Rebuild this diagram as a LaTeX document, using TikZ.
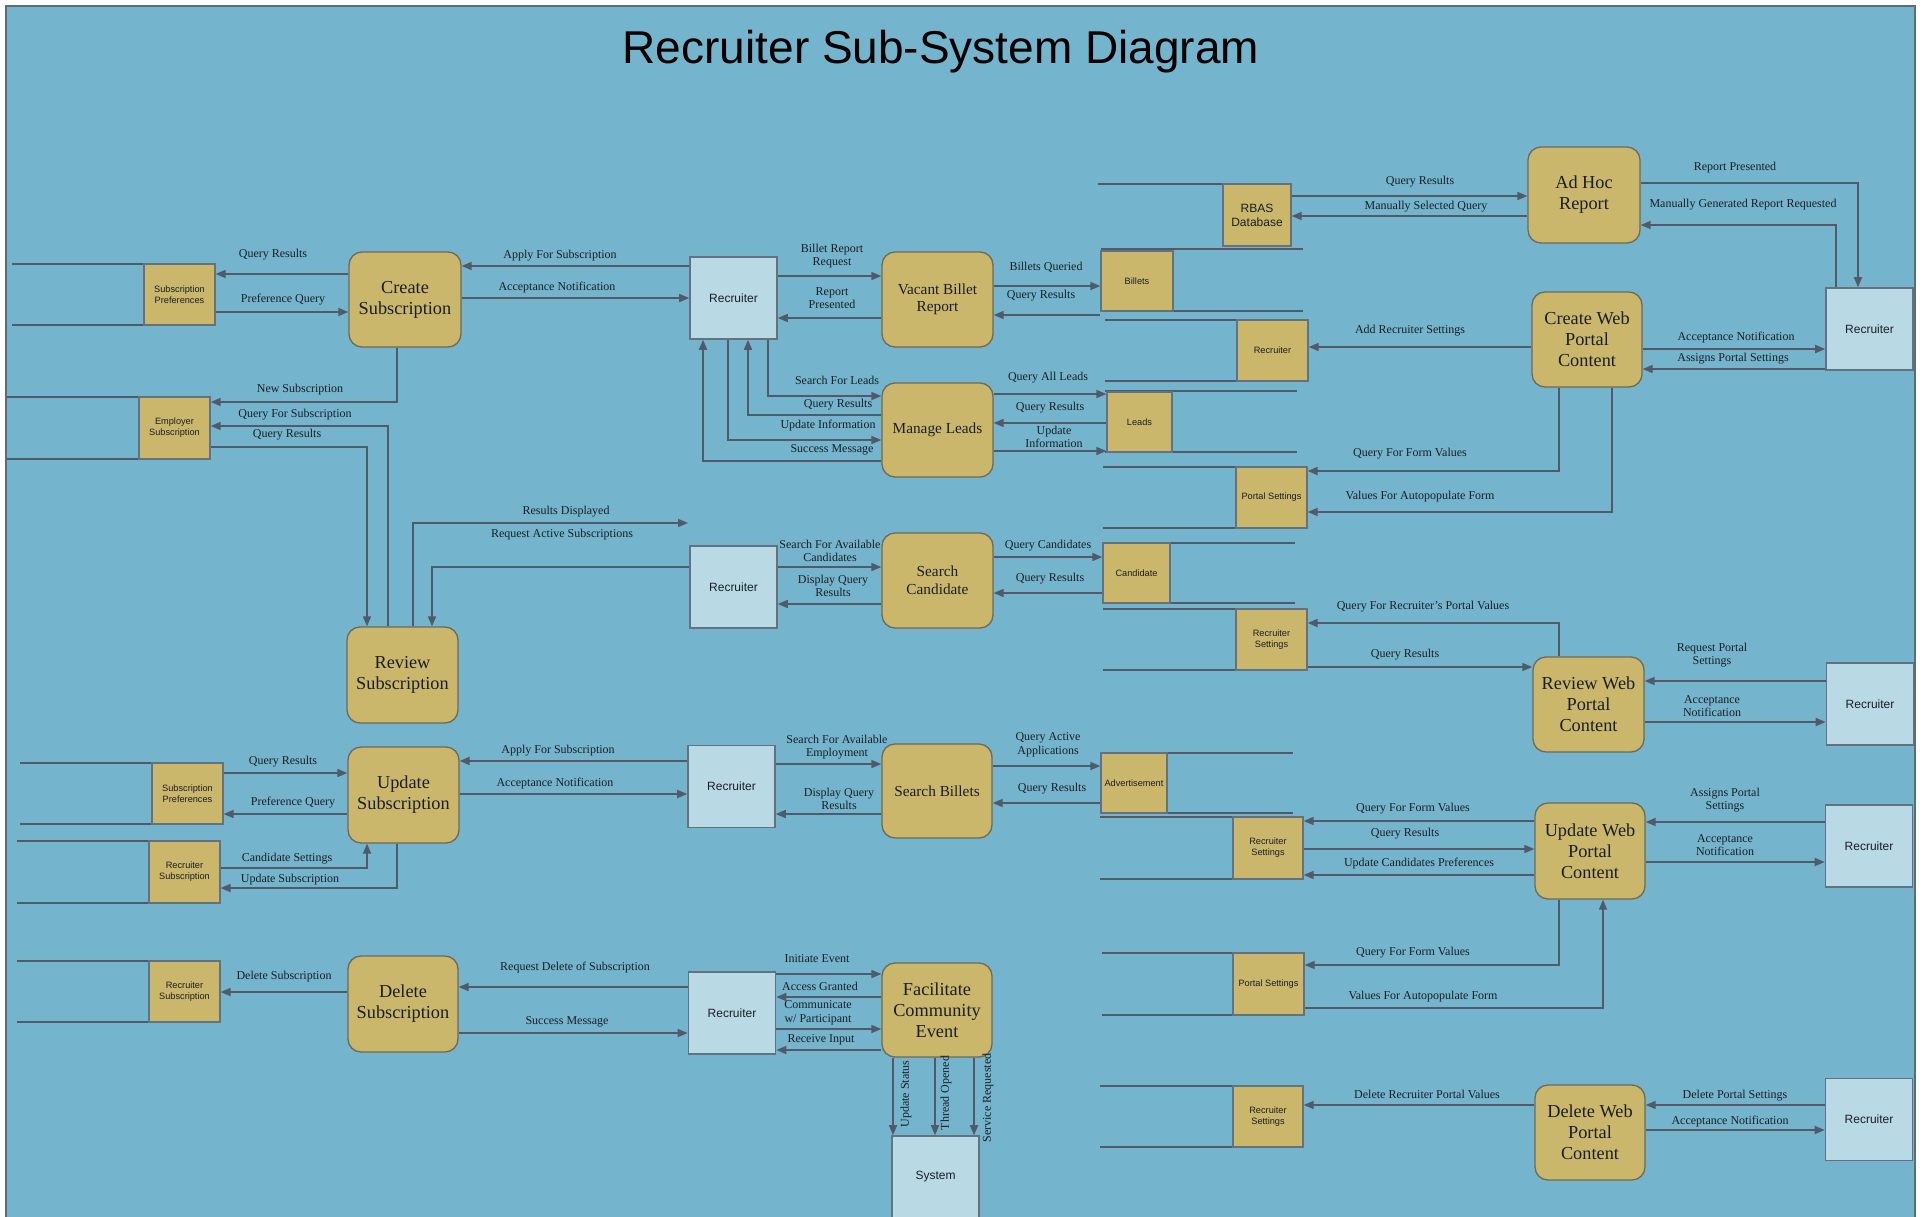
\documentclass[tikz,border=0pt]{standalone}
\usepackage{fontspec}
\setmainfont{Liberation Serif}
\setsansfont{Liberation Sans}
\usetikzlibrary{arrows.meta,calc}
\definecolor{bgc}{HTML}{74B4CC}
\definecolor{gold}{HTML}{CBB76C}
\definecolor{entc}{HTML}{B9D9E4}
\definecolor{lnc}{HTML}{505A69}
\definecolor{txt}{HTML}{1A1F26}
\definecolor{procline}{HTML}{6E6A55}
\definecolor{entline}{HTML}{647280}
\definecolor{framec}{HTML}{5F6B75}
\begin{document}
\begin{tikzpicture}[x=1pt,y=-1pt,
  proc/.style={draw=procline, line width=1.3pt, fill=gold, rounded corners=13pt, inner sep=0pt, align=center, text=txt, font=\fontsize{18.3}{21}\selectfont},
  procs/.style={proc, font=\fontsize{15.3}{17.5}\selectfont},
  ent/.style={draw=entline, line width=1.6pt, fill=entc, inner sep=0pt, minimum width=87pt, minimum height=82pt, text=txt, font=\sffamily\fontsize{12}{14}\selectfont},
  store/.style={draw=entline, line width=1.3pt, fill=gold, inner sep=0pt, align=center, text=txt, font=\sffamily\fontsize{9.2}{11}\selectfont},
  sline/.style={draw=lnc, line width=1.6pt},
  arr/.style={draw=lnc, line width=1.6pt, -{Triangle[length=10pt,width=8pt]}},
  lab/.style={font=\fontsize{12}{13.5}\selectfont, text=txt, align=center, inner sep=0pt}]
\useasboundingbox (0,0) rectangle (1923,1216);
\fill[white] (0,0) rectangle (1923,1216);
\draw[fill=bgc, draw=framec, line width=2pt] (6,6) rectangle (1915,1240);
\node[font=\sffamily\fontsize{46}{50}\selectfont, anchor=base, text=black] (title) at (941,63) {Recruiter Sub-System Diagram};

% ---------- processes ----------
\node[proc, minimum width=112pt, minimum height=95pt] (cs) at (405,299.5) {Create\\Subscription};
\node[proc, minimum width=111pt, minimum height=96pt] (rs) at (402.5,675) {Review\\Subscription};
\node[proc, minimum width=111pt, minimum height=96pt] (us) at (403.5,795) {Update\\Subscription};
\node[proc, minimum width=110pt, minimum height=96pt] (ds) at (403,1004) {Delete\\Subscription};
\node[procs, minimum width=111pt, minimum height=95pt] (vb) at (937.5,299.5) {Vacant Billet\\Report};
\node[procs, minimum width=111pt, minimum height=94pt] (ml) at (937.5,430) {Manage Leads};
\node[procs, minimum width=111pt, minimum height=95pt] (sc) at (937.5,580.5) {Search\\Candidate};
\node[procs, minimum width=110pt, minimum height=94pt] (sb) at (937,791) {Search Billets};
\node[proc, minimum width=110pt, minimum height=94pt] (fce) at (937,1010) {Facilitate\\Community\\Event};
\node[proc, minimum width=112pt, minimum height=96pt] (ah) at (1584,195) {Ad Hoc\\Report};
\node[proc, minimum width=110pt, minimum height=95pt] (cw) at (1587,339.5) {Create Web\\Portal\\Content};
\node[proc, minimum width=111pt, minimum height=95pt] (rw) at (1588.5,704.5) {Review Web\\Portal\\Content};
\node[proc, minimum width=110pt, minimum height=96pt] (uw) at (1590,851) {Update Web\\Portal\\Content};
\node[proc, minimum width=110pt, minimum height=95pt] (dw) at (1590,1132.5) {Delete Web\\Portal\\Content};

% ---------- external entities ----------
\node[ent] (r1) at (733.5,298) {Recruiter};
\node[ent] (r2) at (733.5,587) {Recruiter};
\node[ent] (r3) at (731.5,786.5) {Recruiter};
\node[ent] (r4) at (732,1013) {Recruiter};
\node[ent] (rr1) at (1869.5,329) {Recruiter};
\node[ent] (rr2) at (1870,704) {Recruiter};
\node[ent] (rr3) at (1869,846) {Recruiter};
\node[ent] (rr4) at (1869,1119.5) {Recruiter};
\node[ent] (sys) at (935.5,1177) {System};

% ---------- data stores ----------
\draw[sline] (12,264) -- (215,264) (12,325) -- (215,325);
\node[store, minimum width=71pt, minimum height=61pt] (sp1) at (179.5,294.5) {Subscription\\Preferences};
\draw[sline] (7,397) -- (210,397) (7,459) -- (210,459);
\node[store, minimum width=71pt, minimum height=62pt] (es) at (174.5,428) {Employer\\Subscription};
\draw[sline] (20,763) -- (223,763) (20,824) -- (223,824);
\node[store, minimum width=71pt, minimum height=61pt] (sp2) at (187.5,793.5) {Subscription\\Preferences};
\draw[sline] (17,841) -- (220,841) (17,903) -- (220,903);
\node[store, minimum width=71pt, minimum height=62pt] (rsub1) at (184.5,872) {Recruiter\\Subscription};
\draw[sline] (17,961) -- (220,961) (17,1022) -- (220,1022);
\node[store, minimum width=71pt, minimum height=61pt] (rsub2) at (184.5,991.5) {Recruiter\\Subscription};

\draw[sline] (1098,184) -- (1291,184);
\node[store, minimum width=68pt, minimum height=62pt, font=\sffamily\fontsize{12}{14}\selectfont] (rbas) at (1257,215) {RBAS\\Database};
\draw[sline] (1101,249) -- (1303,249) (1101,311) -- (1303,311);
\node[store, minimum width=72pt, minimum height=60pt] (bil) at (1137,281) {Billets};
\draw[sline] (1105,320) -- (1308,320) (1105,381) -- (1308,381);
\node[store, minimum width=71pt, minimum height=61pt] (rec) at (1272.5,350.5) {Recruiter};
\draw[sline] (1105,391) -- (1297,391) (1105,452) -- (1297,452);
\node[store, minimum width=65pt, minimum height=60pt] (leads) at (1139.5,422) {Leads};
\draw[sline] (1103,467) -- (1307,467) (1103,528) -- (1307,528);
\node[store, minimum width=71pt, minimum height=61pt] (ps1) at (1271.5,497.5) {Portal Settings};
\draw[sline] (1103,543) -- (1295,543) (1103,603) -- (1295,603);
\node[store, minimum width=67pt, minimum height=60pt] (cand) at (1136.5,573) {Candidate};
\draw[sline] (1103,609) -- (1307,609) (1103,670) -- (1307,670);
\node[store, minimum width=71pt, minimum height=61pt] (rset1) at (1271.5,639.5) {Recruiter\\Settings};
\draw[sline] (1101,753) -- (1293,753) (1101,813) -- (1293,813);
\node[store, minimum width=66pt, minimum height=60pt] (adv) at (1134,783) {Advertisement};
\draw[sline] (1100,817) -- (1303,817) (1100,879) -- (1303,879);
\node[store, minimum width=70pt, minimum height=62pt] (rset2) at (1268,848) {Recruiter\\Settings};
\draw[sline] (1102,953) -- (1304,953) (1102,1015) -- (1304,1015);
\node[store, minimum width=71pt, minimum height=62pt] (ps2) at (1268.5,984) {Portal Settings};
\draw[sline] (1100,1086) -- (1303,1086) (1100,1147) -- (1303,1147);
\node[store, minimum width=70pt, minimum height=61pt] (rset3) at (1268,1116.5) {Recruiter\\Settings};

% ---------- connectors: left column ----------
\draw[arr] (cs.west |- 0,274) -- (sp1.east |- 0,274);
\draw[arr] (sp1.east |- 0,312) -- (cs.west |- 0,312);
\draw[arr] (cs.south -| 397,0) |- (es.east |- 0,402);
\draw[arr] (rs.north -| 388,0) |- (es.east |- 0,426);
\draw[arr] (es.east |- 0,447) -| (rs.north -| 367,0);
\coordinate (rdend) at (688,523);
\draw[arr] (rs.north -| 413,0) |- (rdend);
\draw[arr] (r2.west |- 0,567) -| (rs.north -| 432,0);
\draw[arr] (r1.west |- 0,266) -- (cs.east |- 0,266);
\draw[arr] (cs.east |- 0,298) -- (r1.west |- 0,298);
\draw[arr] (sp2.east |- 0,773) -- (us.west |- 0,773);
\draw[arr] (us.west |- 0,814) -- (sp2.east |- 0,814);
\draw[arr] (rsub1.east |- 0,868) -| (us.south -| 367,0);
\draw[arr] (us.south -| 397,0) |- (rsub1.east |- 0,888);
\draw[arr] (r3.west |- 0,761) -- (us.east |- 0,761);
\draw[arr] (us.east |- 0,794) -- (r3.west |- 0,794);
\draw[arr] (ds.west |- 0,992) -- (rsub2.east |- 0,992);
\draw[arr] (r4.west |- 0,987) -- (ds.east |- 0,987);
\draw[arr] (ds.east |- 0,1033) -- (r4.west |- 0,1033);

% ---------- connectors: middle column ----------
\draw[arr] (r1.east |- 0,276) -- (vb.west |- 0,276);
\draw[arr] (vb.west |- 0,318) -- (r1.east |- 0,318);
\draw[arr] (r1.south -| 768,0) |- (ml.west |- 0,396);
\draw[arr] (ml.west |- 0,415) -| (r1.south -| 748,0);
\draw[arr] (r1.south -| 728,0) |- (ml.west |- 0,440);
\draw[arr] (ml.west |- 0,461) -| (r1.south -| 703,0);
\draw[arr] (r2.east |- 0,567) -- (sc.west |- 0,567);
\draw[arr] (sc.west |- 0,604) -- (r2.east |- 0,604);
\draw[arr] (r3.east |- 0,764) -- (sb.west |- 0,764);
\draw[arr] (sb.west |- 0,814) -- (r3.east |- 0,814);
\draw[arr] (r4.east |- 0,974) -- (fce.west |- 0,974);
\draw[arr] (fce.west |- 0,997) -- (r4.east |- 0,997);
\draw[arr] (r4.east |- 0,1029) -- (fce.west |- 0,1029);
\draw[arr] (fce.west |- 0,1050) -- (r4.east |- 0,1050);
\draw[arr] (fce.south -| 893,0) -- (sys.north -| 893,0);
\draw[arr] (fce.south -| 935,0) -- (sys.north -| 935,0);
\draw[arr] (fce.south -| 974,0) -- (sys.north -| 974,0);
\draw[arr] (vb.east |- 0,286) -- (bil.west |- 0,286);
\draw[arr] (bil.west |- 0,315) -- (vb.east |- 0,315);
\draw[arr] (ml.east |- 0,394) -- (leads.west |- 0,394);
\draw[arr] (leads.west |- 0,423) -- (ml.east |- 0,423);
\draw[arr] (ml.east |- 0,451) -- (leads.west |- 0,451);
\draw[arr] (sc.east |- 0,557) -- (cand.west |- 0,557);
\draw[arr] (cand.west |- 0,593) -- (sc.east |- 0,593);
\draw[arr] (sb.east |- 0,766) -- (adv.west |- 0,766);
\draw[arr] (adv.west |- 0,803) -- (sb.east |- 0,803);

% ---------- connectors: right column ----------
\draw[arr] (rbas.east |- 0,196) -- (ah.west |- 0,196);
\draw[arr] (ah.west |- 0,216) -- (rbas.east |- 0,216);
\draw[arr] (ah.east |- 0,183) -| (rr1.north -| 1858,0);
\draw[arr] (rr1.north -| 1836,0) |- (ah.east |- 0,225);
\draw[arr] (cw.east |- 0,349) -- (rr1.west |- 0,349);
\draw[arr] (rr1.west |- 0,369) -- (cw.east |- 0,369);
\draw[arr] (cw.west |- 0,347) -- (rec.east |- 0,347);
\draw[arr] (cw.south -| 1559,0) |- (ps1.east |- 0,471);
\draw[arr] (cw.south -| 1612,0) |- (ps1.east |- 0,512);
\draw[arr] (rw.north -| 1559,0) |- (rset1.east |- 0,623);
\draw[arr] (rset1.east |- 0,667) -- (rw.west |- 0,667);
\draw[arr] (rr2.west |- 0,681) -- (rw.east |- 0,681);
\draw[arr] (rw.east |- 0,722) -- (rr2.west |- 0,722);
\draw[arr] (rr3.west |- 0,822) -- (uw.east |- 0,822);
\draw[arr] (uw.east |- 0,862) -- (rr3.west |- 0,862);
\draw[arr] (uw.west |- 0,821) -- (rset2.east |- 0,821);
\draw[arr] (rset2.east |- 0,849) -- (uw.west |- 0,849);
\draw[arr] (uw.west |- 0,875) -- (rset2.east |- 0,875);
\draw[arr] (uw.south -| 1559,0) |- (ps2.east |- 0,965);
\draw[arr] (ps2.east |- 0,1008) -| (uw.south -| 1603,0);
\draw[arr] (dw.west |- 0,1105) -- (rset3.east |- 0,1105);
\draw[arr] (rr4.west |- 0,1105) -- (dw.east |- 0,1105);
\draw[arr] (dw.east |- 0,1130) -- (rr4.west |- 0,1130);

% ---------- labels ----------
\node[lab] (l1) at (273,255) {Query Results};
\node[lab] (l2) at (283,300) {Preference Query};
\node[lab] (l3) at (300,390) {New Subscription};
\node[lab] (l4) at (295,415) {Query For Subscription};
\node[lab] (l5) at (287,435) {Query Results};
\node[lab] (l6) at (566,512) {Results Displayed};
\node[lab] (l7) at (562,535) {Request Active Subscriptions};
\node[lab] (l8) at (560,256) {Apply For Subscription};
\node[lab] (l9) at (557,288) {Acceptance Notification};
\node[lab] (l10) at (283,762) {Query Results};
\node[lab] (l11) at (293,803) {Preference Query};
\node[lab] (l12) at (287,859) {Candidate Settings};
\node[lab] (l13) at (290,880) {Update Subscription};
\node[lab] (l14) at (558,751) {Apply For Subscription};
\node[lab] (l15) at (555,784) {Acceptance Notification};
\node[lab] (l16) at (284,977) {Delete Subscription};
\node[lab] (l17) at (575,968) {Request Delete of Subscription};
\node[lab] (l18) at (567,1022) {Success Message};
\node[lab] (l19) at (832,256) {Billet Report\\Request};
\node[lab] (l20) at (832,298) {Report\\Presented};
\node[lab] (l21) at (837,380) {Search For Leads};
\node[lab] (l22) at (838,405) {Query Results};
\node[lab] (l23) at (828,426) {Update Information};
\node[lab] (l24) at (832,450) {Success Message};
\node[lab] (l25) at (830,551) {Search For Available\\Candidates};
\node[lab] (l26) at (833,586) {Display Query\\Results};
\node[lab] (l27) at (837,747) {Search For Available\\Employment};
\node[lab] (l28) at (839,799) {Display Query\\Results};
\node[lab] (l29) at (817,959) {Initiate Event};
\node[lab] (l30) at (820,986) {Access Granted};
\node[lab] (l31) at (818,1013) {Communicate\\w/ Participant};
\node[lab] (l32) at (821,1040) {Receive Input};
\node[lab, rotate=90] (l33) at (906,1094) {Update Status};
\node[lab, rotate=90] (l34) at (946,1093) {Thread Opened};
\node[lab, rotate=90] (l35) at (988,1098) {Service Requested};
\node[lab] (l36) at (1046,267) {Billets Queried};
\node[lab] (l37) at (1041,296) {Query Results};
\node[lab] (l38) at (1048,378) {Query All Leads};
\node[lab] (l39) at (1050,408) {Query Results};
\node[lab] (l40) at (1054,437) {Update\\Information};
\node[lab] (l41) at (1048,546) {Query Candidates};
\node[lab] (l42) at (1050,579) {Query Results};
\node[lab] (l43) at (1048,745) {Query Active\\Applications};
\node[lab] (l44) at (1052,789) {Query Results};
\node[lab] (l45) at (1420,182) {Query Results};
\node[lab] (l46) at (1426,207) {Manually Selected Query};
\node[lab] (l47) at (1735,168) {Report Presented};
\node[lab] (l48) at (1743,205) {Manually Generated Report Requested};
\node[lab] (l49) at (1736,338) {Acceptance Notification};
\node[lab] (l50) at (1733,359) {Assigns Portal Settings};
\node[lab] (l51) at (1410,331) {Add Recruiter Settings};
\node[lab] (l52) at (1410,454) {Query For Form Values};
\node[lab] (l53) at (1420,497) {Values For Autopopulate Form};
\node[lab] (l54) at (1423,607) {Query For Recruiter's Portal Values};
\node[lab] (l55) at (1405,655) {Query Results};
\node[lab] (l56) at (1712,655) {Request Portal\\Settings};
\node[lab] (l57) at (1712,706) {Acceptance\\Notification};
\node[lab] (l58) at (1725,800) {Assigns Portal\\Settings};
\node[lab] (l59) at (1725,845) {Acceptance\\Notification};
\node[lab] (l60) at (1413,809) {Query For Form Values};
\node[lab] (l61) at (1405,834) {Query Results};
\node[lab] (l62) at (1419,864) {Update Candidates Preferences};
\node[lab] (l63) at (1413,953) {Query For Form Values};
\node[lab] (l64) at (1423,997) {Values For Autopopulate Form};
\node[lab] (l65) at (1427,1094) {Delete Recruiter Portal Values};
\node[lab] (l66) at (1735,1096) {Delete Portal Settings};
\node[lab] (l67) at (1730,1122) {Acceptance Notification};
\end{tikzpicture}
\end{document}
